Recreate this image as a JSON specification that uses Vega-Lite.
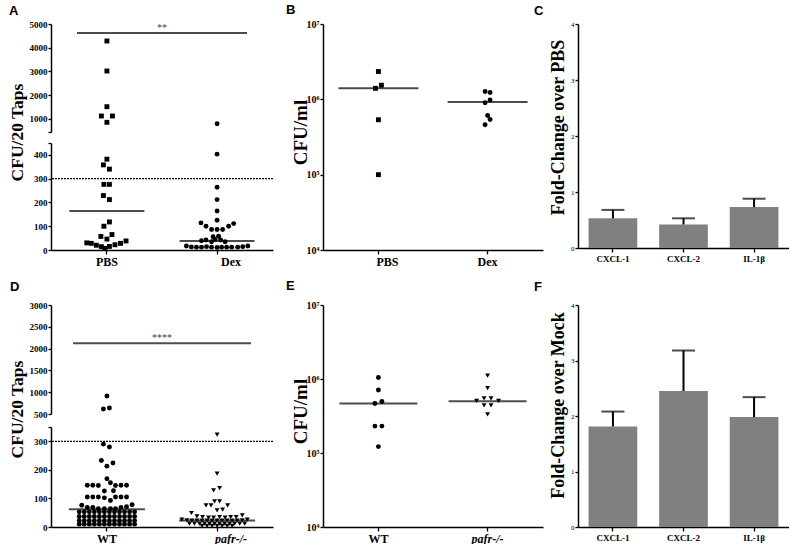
{
  "$schema": "https://vega.github.io/schema/vega-lite/v6.json",
  "padding": {"left": 8, "top": 4, "right": 0, "bottom": 0},
  "config": {
    "view": {"stroke": null},
    "font": "Liberation Serif",
    "axis": {"domainColor": "black", "domainWidth": 1.5, "tickColor": "black", "tickWidth": 1.3, "tickSize": 4, "labelColor": "black", "labelFont": "Liberation Serif", "labelFontWeight": "bold", "titleFont": "Liberation Serif", "titleFontWeight": "bold", "titleColor": "black", "grid": false},
    "title": {"font": "Liberation Sans", "fontSize": 13, "fontWeight": "bold", "anchor": "start", "frame": "group", "color": "black", "baseline": "alphabetic", "offset": 2}
  },
  "datasets": {
    "A": [
      {"grp":"PBS","cfu":4284,"slot":0},{"grp":"PBS","cfu":3020,"slot":0},{"grp":"PBS","cfu":1516,"slot":0},{"grp":"PBS","cfu":1124,"slot":-1.1},{"grp":"PBS","cfu":1124,"slot":1.1},{"grp":"PBS","cfu":858,"slot":0},
      {"grp":"PBS","cfu":382,"slot":0},{"grp":"PBS","cfu":358,"slot":-0.7},{"grp":"PBS","cfu":340,"slot":0.5},{"grp":"PBS","cfu":276,"slot":-0.6},{"grp":"PBS","cfu":276,"slot":0.5},{"grp":"PBS","cfu":229,"slot":-0.7},{"grp":"PBS","cfu":212,"slot":0.5},{"grp":"PBS","cfu":118,"slot":0.5},{"grp":"PBS","cfu":100,"slot":-0.6},{"grp":"PBS","cfu":65,"slot":1},{"grp":"PBS","cfu":57,"slot":-1.2},{"grp":"PBS","cfu":46,"slot":0},
      {"grp":"PBS","cfu":30,"slot":-4},{"grp":"PBS","cfu":28,"slot":-3.1},{"grp":"PBS","cfu":20,"slot":-2.1},{"grp":"PBS","cfu":14,"slot":-1.1},{"grp":"PBS","cfu":7,"slot":-0.4},{"grp":"PBS","cfu":15,"slot":0.5},{"grp":"PBS","cfu":22,"slot":1.6},{"grp":"PBS","cfu":28,"slot":2.7},{"grp":"PBS","cfu":38,"slot":3.8},
      {"grp":"Dex","cfu":800,"slot":0},{"grp":"Dex","cfu":403,"slot":0},{"grp":"Dex","cfu":264,"slot":0},{"grp":"Dex","cfu":212,"slot":0},{"grp":"Dex","cfu":164,"slot":0},{"grp":"Dex","cfu":125,"slot":0},{"grp":"Dex","cfu":114,"slot":-3.2},{"grp":"Dex","cfu":100,"slot":-2.2},{"grp":"Dex","cfu":86,"slot":-1.1},{"grp":"Dex","cfu":86,"slot":0},{"grp":"Dex","cfu":86,"slot":1.1},{"grp":"Dex","cfu":100,"slot":2.3},{"grp":"Dex","cfu":111,"slot":3.3},{"grp":"Dex","cfu":56,"slot":-0.8},{"grp":"Dex","cfu":58,"slot":0.3},
      {"grp":"Dex","cfu":39,"slot":-3.1},{"grp":"Dex","cfu":42,"slot":-2.2},{"grp":"Dex","cfu":35,"slot":-1.1},{"grp":"Dex","cfu":44,"slot":-0.4},{"grp":"Dex","cfu":42,"slot":0.7},{"grp":"Dex","cfu":35,"slot":1.6},
      {"grp":"Dex","cfu":17,"slot":-6.1},{"grp":"Dex","cfu":13,"slot":-5.1},{"grp":"Dex","cfu":12,"slot":-4.1},{"grp":"Dex","cfu":12,"slot":-3.1},{"grp":"Dex","cfu":14,"slot":-2.1},{"grp":"Dex","cfu":12,"slot":-1.1},{"grp":"Dex","cfu":11,"slot":0},{"grp":"Dex","cfu":12,"slot":0.9},{"grp":"Dex","cfu":12,"slot":1.9},{"grp":"Dex","cfu":12,"slot":2.9},{"grp":"Dex","cfu":12,"slot":4.1},{"grp":"Dex","cfu":14,"slot":5.1},{"grp":"Dex","cfu":17,"slot":6.1}
    ],
    "Amed": [{"grp":"PBS","median":164},{"grp":"Dex","median":38}],
    "B": [
      {"grp":"PBS","cfu":2340000,"slot":0},{"grp":"PBS","cfu":1400000,"slot":-0.6},{"grp":"PBS","cfu":1540000,"slot":0.6},{"grp":"PBS","cfu":536000,"slot":0},{"grp":"PBS","cfu":100000,"slot":0},
      {"grp":"Dex","cfu":1270000,"slot":-0.5},{"grp":"Dex","cfu":1230000,"slot":0.5},{"grp":"Dex","cfu":900000,"slot":-0.5},{"grp":"Dex","cfu":980000,"slot":0.5},{"grp":"Dex","cfu":610000,"slot":0},{"grp":"Dex","cfu":540000,"slot":0.5},{"grp":"Dex","cfu":460000,"slot":-0.5}
    ],
    "Bmed": [{"grp":"PBS","median":1400000},{"grp":"Dex","median":920000}],
    "C": [{"gene":"CXCL-1","fc":0.53,"upper":0.68},{"gene":"CXCL-2","fc":0.42,"upper":0.53},{"gene":"IL-1β","fc":0.73,"upper":0.88}],
    "D": [
      {"grp":"WT","cfu":912,"slot":0},{"grp":"WT","cfu":614,"slot":-0.7},{"grp":"WT","cfu":636,"slot":0.5},
      {"grp":"WT","cfu":290,"slot":-0.7},{"grp":"WT","cfu":280,"slot":0.5},{"grp":"WT","cfu":233,"slot":-1.1},{"grp":"WT","cfu":224,"slot":1.2},{"grp":"WT","cfu":213,"slot":0},{"grp":"WT","cfu":169,"slot":0},{"grp":"WT","cfu":155,"slot":0.7},
      {"grp":"WT","cfu":146,"slot":-3.9},{"grp":"WT","cfu":146,"slot":-2.8},{"grp":"WT","cfu":145,"slot":-1.7},{"grp":"WT","cfu":145,"slot":1.7},{"grp":"WT","cfu":146,"slot":2.8},{"grp":"WT","cfu":146,"slot":3.9},
      {"grp":"WT","cfu":126,"slot":-0.5},{"grp":"WT","cfu":127,"slot":1.3},
      {"grp":"WT","cfu":105,"slot":-3.9},{"grp":"WT","cfu":105,"slot":-2.8},{"grp":"WT","cfu":105,"slot":-1.7},{"grp":"WT","cfu":102,"slot":-0.5},{"grp":"WT","cfu":105,"slot":1.7},{"grp":"WT","cfu":105,"slot":2.8},{"grp":"WT","cfu":105,"slot":3.9},
      {"grp":"WT","cfu":93,"slot":0.7},
      {"grp":"WT","cfu":76,"slot":-5},{"grp":"WT","cfu":68,"slot":-3.9},{"grp":"WT","cfu":68,"slot":-2.8},{"grp":"WT","cfu":64,"slot":-1.7},{"grp":"WT","cfu":64,"slot":-0.5},{"grp":"WT","cfu":64,"slot":0.7},{"grp":"WT","cfu":64,"slot":1.7},{"grp":"WT","cfu":68,"slot":2.8},{"grp":"WT","cfu":71,"slot":3.9},{"grp":"WT","cfu":78,"slot":5},
      {"grp":"WT","cfu":53,"slot":-5.5},{"grp":"WT","cfu":53,"slot":-4.5},{"grp":"WT","cfu":53,"slot":-3.5},{"grp":"WT","cfu":53,"slot":-2.5},{"grp":"WT","cfu":53,"slot":-1.5},{"grp":"WT","cfu":53,"slot":-0.5},{"grp":"WT","cfu":53,"slot":0.5},{"grp":"WT","cfu":53,"slot":1.5},{"grp":"WT","cfu":53,"slot":2.5},{"grp":"WT","cfu":53,"slot":3.5},{"grp":"WT","cfu":53,"slot":4.5},{"grp":"WT","cfu":53,"slot":5.5},
      {"grp":"WT","cfu":37,"slot":-5.5},{"grp":"WT","cfu":37,"slot":-4.5},{"grp":"WT","cfu":37,"slot":-3.5},{"grp":"WT","cfu":37,"slot":-2.5},{"grp":"WT","cfu":37,"slot":-1.5},{"grp":"WT","cfu":37,"slot":-0.5},{"grp":"WT","cfu":37,"slot":0.5},{"grp":"WT","cfu":37,"slot":1.5},{"grp":"WT","cfu":37,"slot":2.5},{"grp":"WT","cfu":37,"slot":3.5},{"grp":"WT","cfu":37,"slot":4.5},{"grp":"WT","cfu":37,"slot":5.5},
      {"grp":"WT","cfu":22,"slot":-5.5},{"grp":"WT","cfu":22,"slot":-4.5},{"grp":"WT","cfu":22,"slot":-3.5},{"grp":"WT","cfu":22,"slot":-2.5},{"grp":"WT","cfu":22,"slot":-1.5},{"grp":"WT","cfu":22,"slot":-0.5},{"grp":"WT","cfu":22,"slot":0.5},{"grp":"WT","cfu":22,"slot":1.5},{"grp":"WT","cfu":22,"slot":2.5},{"grp":"WT","cfu":22,"slot":3.5},{"grp":"WT","cfu":22,"slot":4.5},{"grp":"WT","cfu":22,"slot":5.5},
      {"grp":"WT","cfu":10,"slot":-5.5},{"grp":"WT","cfu":10,"slot":-4.5},{"grp":"WT","cfu":10,"slot":-3.5},{"grp":"WT","cfu":10,"slot":-2.5},{"grp":"WT","cfu":10,"slot":-1.5},{"grp":"WT","cfu":10,"slot":-0.5},{"grp":"WT","cfu":10,"slot":0.5},{"grp":"WT","cfu":10,"slot":1.5},{"grp":"WT","cfu":10,"slot":2.5},{"grp":"WT","cfu":10,"slot":3.5},{"grp":"WT","cfu":10,"slot":4.5},{"grp":"WT","cfu":10,"slot":5.5},
      {"grp":"pafr-/-","cfu":323,"slot":0},{"grp":"pafr-/-","cfu":187,"slot":0},{"grp":"pafr-/-","cfu":128,"slot":-0.7},{"grp":"pafr-/-","cfu":136,"slot":0.5},
      {"grp":"pafr-/-","cfu":76,"slot":-2.2},{"grp":"pafr-/-","cfu":76,"slot":-1.2},{"grp":"pafr-/-","cfu":90,"slot":-0.5},{"grp":"pafr-/-","cfu":90,"slot":0.5},{"grp":"pafr-/-","cfu":76,"slot":2.1},
      {"grp":"pafr-/-","cfu":58,"slot":0},{"grp":"pafr-/-","cfu":61,"slot":1.1},
      {"grp":"pafr-/-","cfu":49,"slot":-5.1},{"grp":"pafr-/-","cfu":37,"slot":-4},{"grp":"pafr-/-","cfu":35,"slot":-2.9},{"grp":"pafr-/-","cfu":33,"slot":-1.7},{"grp":"pafr-/-","cfu":33,"slot":-0.7},{"grp":"pafr-/-","cfu":35,"slot":0.5},{"grp":"pafr-/-","cfu":33,"slot":1.6},{"grp":"pafr-/-","cfu":35,"slot":2.7},{"grp":"pafr-/-","cfu":35,"slot":3.8},{"grp":"pafr-/-","cfu":41,"slot":5},
      {"grp":"pafr-/-","cfu":26,"slot":-7},{"grp":"pafr-/-","cfu":23,"slot":-6},{"grp":"pafr-/-","cfu":22,"slot":-5},{"grp":"pafr-/-","cfu":22,"slot":-4},{"grp":"pafr-/-","cfu":22,"slot":-3},{"grp":"pafr-/-","cfu":22,"slot":-2},{"grp":"pafr-/-","cfu":22,"slot":-1},{"grp":"pafr-/-","cfu":22,"slot":0},{"grp":"pafr-/-","cfu":22,"slot":1},{"grp":"pafr-/-","cfu":22,"slot":2},{"grp":"pafr-/-","cfu":22,"slot":3},{"grp":"pafr-/-","cfu":22,"slot":4},{"grp":"pafr-/-","cfu":23,"slot":5},{"grp":"pafr-/-","cfu":26,"slot":6},
      {"grp":"pafr-/-","cfu":12,"slot":-5.5},{"grp":"pafr-/-","cfu":12,"slot":-4.5},{"grp":"pafr-/-","cfu":12,"slot":-3.5},{"grp":"pafr-/-","cfu":12,"slot":-2.5},{"grp":"pafr-/-","cfu":12,"slot":-1.5},{"grp":"pafr-/-","cfu":12,"slot":-0.5},{"grp":"pafr-/-","cfu":12,"slot":0.5},{"grp":"pafr-/-","cfu":12,"slot":1.5},{"grp":"pafr-/-","cfu":12,"slot":2.5},{"grp":"pafr-/-","cfu":12,"slot":3.5},{"grp":"pafr-/-","cfu":12,"slot":4.5},{"grp":"pafr-/-","cfu":12,"slot":5.5},
      {"grp":"pafr-/-","cfu":4,"slot":-3},{"grp":"pafr-/-","cfu":4,"slot":-2},{"grp":"pafr-/-","cfu":4,"slot":-1},{"grp":"pafr-/-","cfu":4,"slot":0},{"grp":"pafr-/-","cfu":4,"slot":1},{"grp":"pafr-/-","cfu":4,"slot":2},{"grp":"pafr-/-","cfu":4,"slot":3}
    ],
    "Dmed": [{"grp":"WT","median":62},{"grp":"pafr-/-","median":23}],
    "E": [
      {"grp":"WT","cfu":1050000,"slot":0},{"grp":"WT","cfu":710000,"slot":0},{"grp":"WT","cfu":466000,"slot":-0.7},{"grp":"WT","cfu":497000,"slot":0.7},{"grp":"WT","cfu":231000,"slot":-0.7},{"grp":"WT","cfu":231000,"slot":0.7},{"grp":"WT","cfu":122000,"slot":0},
      {"grp":"pafr-/-","cfu":1110000,"slot":0},{"grp":"pafr-/-","cfu":750000,"slot":0},{"grp":"pafr-/-","cfu":506000,"slot":-2.2},{"grp":"pafr-/-","cfu":546000,"slot":-0.7},{"grp":"pafr-/-","cfu":546000,"slot":0.7},{"grp":"pafr-/-","cfu":506000,"slot":2.2},{"grp":"pafr-/-","cfu":440000,"slot":-0.7},{"grp":"pafr-/-","cfu":440000,"slot":0.7},{"grp":"pafr-/-","cfu":333000,"slot":0}
    ],
    "Emed": [{"grp":"WT","median":466000},{"grp":"pafr-/-","median":500000}],
    "F": [{"gene":"CXCL-1","fc":1.81,"upper":2.08},{"gene":"CXCL-2","fc":2.45,"upper":3.18},{"gene":"IL-1β","fc":1.98,"upper":2.34}]
  },
  "columns": 5,
  "spacing": {"row": 55, "column": 0},
  "bounds": "flush",
  "resolve": {"scale": {"shape": "independent", "xOffset": "independent"}},
  "concat": [
    {
      "width": 222, "height": 226,
      "title": {"text": "A", "dx": -42},
      "layer": [
        {"layer": [
          {"data": {"name": "A"}, "transform": [{"filter": "datum.cfu <= 450"}],
           "mark": {"type": "point", "filled": true, "color": "black", "opacity": 1, "size": 24},
           "encoding": {
             "x": {"field": "grp", "type": "nominal", "sort": ["PBS", "Dex"], "title": null, "scale": {"type": "band", "paddingInner": 0.315, "paddingOuter": 0.165},
                   "axis": {"labelAngle": 0, "labelFontSize": 12, "labelPadding": 2, "labelOffset": {"condition": {"test": "datum.value === 'Dex'", "value": 14}, "value": 0}}},
             "xOffset": {"field": "slot", "type": "quantitative", "scale": {"domain": [-7.5, 7.5]}},
             "y": {"field": "cfu", "type": "quantitative", "title": "CFU/20 Taps", "scale": {"domain": [0, 450], "range": [226, 119], "nice": false, "zero": false},
                   "axis": {"orient": "left", "values": [0, 100, 200, 300, 400, 450], "format": "d", "labelExpr": "datum.value == 450 ? '' : datum.label", "labelFontSize": 9, "labelPadding": 1, "tickSize": 3, "titleFontSize": 17.5, "titleX": -25, "titleY": 108}},
             "shape": {"field": "grp", "type": "nominal", "scale": {"domain": ["PBS", "Dex"], "range": ["square", "circle"]}, "legend": null}
           }},
          {"data": {"name": "Amed"}, "mark": {"type": "tick", "color": "black", "size": 75, "thickness": 2},
           "encoding": {"x": {"field": "grp", "type": "nominal", "sort": ["PBS", "Dex"], "title": null}, "y": {"field": "median", "type": "quantitative", "title": "CFU/20 Taps"}}},
          {"data": {"values": [{}]}, "mark": {"type": "rule", "color": "black", "strokeDash": [2, 1], "strokeWidth": 1.2},
           "encoding": {"y": {"datum": 300, "type": "quantitative"}}}
        ]},
        {"layer": [
          {"data": {"name": "A"}, "transform": [{"filter": "datum.cfu > 450"}],
           "mark": {"type": "point", "filled": true, "color": "black", "opacity": 1, "size": 24},
           "encoding": {
             "x": {"field": "grp", "type": "nominal", "sort": ["PBS", "Dex"], "title": null},
             "xOffset": {"field": "slot", "type": "quantitative"},
             "y": {"field": "cfu", "type": "quantitative", "title": null, "scale": {"domain": [450, 5000], "range": [108, 0], "nice": false, "zero": false},
                   "axis": {"orient": "left", "values": [450, 1000, 2000, 3000, 4000, 5000], "format": "d", "labelExpr": "datum.value == 450 ? '' : datum.label", "labelFontSize": 9, "labelPadding": 1, "tickSize": 3}},
             "shape": {"field": "grp", "type": "nominal", "legend": null}
           }},
          {"data": {"values": [{}]}, "mark": {"type": "tick", "color": "black", "size": 170, "thickness": 2},
           "encoding": {"y": {"datum": 4620, "type": "quantitative"}}},
          {"data": {"values": [{}]}, "mark": {"type": "text", "text": "**", "font": "Liberation Serif", "fontSize": 10, "baseline": "alphabetic", "dy": -2, "color": "#444444"},
           "encoding": {"y": {"datum": 4620, "type": "quantitative"}}}
        ]}
      ],
      "resolve": {"scale": {"y": "independent"}, "axis": {"y": "independent"}}
    },
    {"width": 50, "height": 10, "data": {"values": []}, "mark": "point"},
    {
      "width": 220, "height": 226,
      "title": {"text": "B", "dx": -37},
      "layer": [
        {"data": {"name": "B"},
         "mark": {"type": "point", "filled": true, "color": "black", "opacity": 1, "size": 24},
         "encoding": {
           "x": {"field": "grp", "type": "nominal", "sort": ["PBS", "Dex"], "title": null, "scale": {"type": "band", "paddingInner": 0.315, "paddingOuter": 0.165},
                 "axis": {"labelAngle": 0, "labelFontSize": 12, "labelPadding": 2, "labelOffset": {"condition": {"test": "datum.value === 'PBS'", "value": 9}, "value": 0}}},
           "xOffset": {"field": "slot", "type": "quantitative", "scale": {"domain": [-7.5, 7.5]}},
           "y": {"field": "cfu", "type": "quantitative", "title": "CFU/ml", "scale": {"type": "log", "domain": [10000, 10000000], "nice": false},
                 "axis": {"values": [10000, 100000, 1000000, 10000000], "labelExpr": "'10' + ['⁰','¹','²','³','⁴','⁵','⁶','⁷'][round(log(datum.value)/LN10)]", "labelFontSize": 10, "labelPadding": 1, "tickSize": 3, "titleFontSize": 19, "titleX": -13, "titleY": 108}},
           "shape": {"field": "grp", "type": "nominal", "scale": {"domain": ["PBS", "Dex"], "range": ["square", "circle"]}, "legend": null}
         }},
        {"data": {"name": "Bmed"}, "mark": {"type": "tick", "color": "black", "size": 80, "thickness": 2},
         "encoding": {"x": {"field": "grp", "type": "nominal", "sort": ["PBS", "Dex"], "title": null}, "y": {"field": "median", "type": "quantitative", "title": "CFU/ml"}}}
      ]
    },
    {"width": 35, "height": 10, "data": {"values": []}, "mark": "point"},
    {
      "width": 211, "height": 224,
      "title": {"text": "C", "dx": -44},
      "data": {"name": "C"},
      "encoding": {"x": {"field": "gene", "type": "nominal", "sort": ["CXCL-1", "CXCL-2", "IL-1β"], "title": null, "scale": {"type": "band", "paddingInner": 0.31, "paddingOuter": 0.15}, "axis": {"labelAngle": 0, "labelFontSize": 9, "labelPadding": 2}}},
      "layer": [
        {"mark": {"type": "bar", "color": "#808080"},
         "encoding": {"y": {"field": "fc", "type": "quantitative", "title": "Fold-Change over PBS", "scale": {"domain": [0, 4], "nice": false},
           "axis": {"values": [0, 1, 2, 3, 4], "format": "d", "labelFontSize": 7, "labelFontWeight": "normal", "tickSize": 3, "labelPadding": 1, "titleFontSize": 18, "titleX": -11, "titleY": 103}}}},
        {"mark": {"type": "rule", "color": "black", "strokeWidth": 2},
         "encoding": {"y": {"field": "fc", "type": "quantitative", "title": "Fold-Change over PBS"}, "y2": {"field": "upper"}}},
        {"mark": {"type": "tick", "color": "black", "size": 23, "thickness": 2},
         "encoding": {"y": {"field": "upper", "type": "quantitative", "title": "Fold-Change over PBS"}}}
      ]
    },
    {
      "width": 222, "height": 222,
      "title": {"text": "D", "dx": -41, "dy": -5},
      "layer": [
        {"layer": [
          {"data": {"name": "D"}, "transform": [{"filter": "datum.cfu <= 350"}],
           "mark": {"type": "point", "filled": true, "color": "black", "opacity": 1, "size": 24},
           "encoding": {
             "x": {"field": "grp", "type": "nominal", "sort": ["WT", "pafr-/-"], "title": null, "scale": {"type": "band", "paddingInner": 0.315, "paddingOuter": 0.165},
                   "axis": {"labelAngle": 0, "labelFontSize": 12, "labelPadding": 2, "labelOffset": {"condition": {"test": "datum.value === 'pafr-/-'", "value": 14}, "value": 0}, "labelFontStyle": {"condition": {"test": "datum.value === 'pafr-/-'", "value": "italic"}, "value": "normal"}}},
             "xOffset": {"field": "slot", "type": "quantitative", "scale": {"domain": [-7.5, 7.5]}},
             "y": {"field": "cfu", "type": "quantitative", "title": "CFU/20 Taps", "scale": {"domain": [0, 350], "range": [222, 122], "nice": false, "zero": false},
                   "axis": {"orient": "left", "values": [0, 100, 200, 300, 350], "format": "d", "labelExpr": "datum.value == 350 ? '' : datum.label", "labelFontSize": 9, "labelPadding": 1, "tickSize": 3, "titleFontSize": 17.5, "titleX": -25, "titleY": 104}},
             "shape": {"field": "grp", "type": "nominal", "scale": {"domain": ["WT", "pafr-/-"], "range": ["circle", "triangle-down"]}, "legend": null}
           }},
          {"data": {"name": "Dmed"}, "mark": {"type": "tick", "color": "black", "size": 76, "thickness": 2},
           "encoding": {"x": {"field": "grp", "type": "nominal", "sort": ["WT", "pafr-/-"], "title": null}, "y": {"field": "median", "type": "quantitative", "title": "CFU/20 Taps"}}},
          {"data": {"values": [{}]}, "mark": {"type": "rule", "color": "black", "strokeDash": [2, 1], "strokeWidth": 1.2},
           "encoding": {"y": {"datum": 300, "type": "quantitative"}}}
        ]},
        {"layer": [
          {"data": {"name": "D"}, "transform": [{"filter": "datum.cfu > 350"}],
           "mark": {"type": "point", "filled": true, "color": "black", "opacity": 1, "size": 24},
           "encoding": {
             "x": {"field": "grp", "type": "nominal", "sort": ["WT", "pafr-/-"], "title": null},
             "xOffset": {"field": "slot", "type": "quantitative"},
             "y": {"field": "cfu", "type": "quantitative", "title": null, "scale": {"domain": [500, 3000], "range": [109, 0], "nice": false, "zero": false},
                   "axis": {"orient": "left", "values": [500, 1000, 1500, 2000, 2500, 3000], "format": "d", "labelFontSize": 9, "labelPadding": 1, "tickSize": 3}},
             "shape": {"field": "grp", "type": "nominal", "legend": null}
           }},
          {"data": {"values": [{}]}, "mark": {"type": "tick", "color": "black", "size": 178, "thickness": 2},
           "encoding": {"y": {"datum": 2122, "type": "quantitative"}}},
          {"data": {"values": [{}]}, "mark": {"type": "text", "text": "****", "font": "Liberation Serif", "fontSize": 10, "baseline": "alphabetic", "dy": -2, "color": "#444444"},
           "encoding": {"y": {"datum": 2122, "type": "quantitative"}}}
        ]}
      ],
      "resolve": {"scale": {"y": "independent"}, "axis": {"y": "independent"}}
    },
    {"width": 50, "height": 10, "data": {"values": []}, "mark": "point"},
    {
      "width": 220, "height": 222,
      "title": {"text": "E", "dx": -37, "dy": -5},
      "layer": [
        {"data": {"name": "E"},
         "mark": {"type": "point", "filled": true, "color": "black", "opacity": 1, "size": 24},
         "encoding": {
           "x": {"field": "grp", "type": "nominal", "sort": ["WT", "pafr-/-"], "title": null, "scale": {"type": "band", "paddingInner": 0.315, "paddingOuter": 0.165},
                 "axis": {"labelAngle": 0, "labelFontSize": 12, "labelPadding": 2, "labelFontStyle": {"condition": {"test": "datum.value === 'pafr-/-'", "value": "italic"}, "value": "normal"}}},
           "xOffset": {"field": "slot", "type": "quantitative", "scale": {"domain": [-7.5, 7.5]}},
           "y": {"field": "cfu", "type": "quantitative", "title": "CFU/ml", "scale": {"type": "log", "domain": [10000, 10000000], "nice": false},
                 "axis": {"values": [10000, 100000, 1000000, 10000000], "labelExpr": "'10' + ['⁰','¹','²','³','⁴','⁵','⁶','⁷'][round(log(datum.value)/LN10)]", "labelFontSize": 10, "labelPadding": 1, "tickSize": 3, "titleFontSize": 19, "titleX": -13, "titleY": 106}},
           "shape": {"field": "grp", "type": "nominal", "scale": {"domain": ["WT", "pafr-/-"], "range": ["circle", "triangle-down"]}, "legend": null}
         }},
        {"data": {"name": "Emed"}, "mark": {"type": "tick", "color": "black", "size": 78, "thickness": 2},
         "encoding": {"x": {"field": "grp", "type": "nominal", "sort": ["WT", "pafr-/-"], "title": null}, "y": {"field": "median", "type": "quantitative", "title": "CFU/ml"}}}
      ]
    },
    {"width": 35, "height": 10, "data": {"values": []}, "mark": "point"},
    {
      "width": 211, "height": 222,
      "title": {"text": "F", "dx": -44, "dy": -5},
      "data": {"name": "F"},
      "encoding": {"x": {"field": "gene", "type": "nominal", "sort": ["CXCL-1", "CXCL-2", "IL-1β"], "title": null, "scale": {"type": "band", "paddingInner": 0.31, "paddingOuter": 0.15}, "axis": {"labelAngle": 0, "labelFontSize": 9, "labelPadding": 2}}},
      "layer": [
        {"mark": {"type": "bar", "color": "#808080"},
         "encoding": {"y": {"field": "fc", "type": "quantitative", "title": "Fold-Change over Mock", "scale": {"domain": [0, 4], "nice": false},
           "axis": {"values": [0, 1, 2, 3, 4], "format": "d", "labelFontSize": 7, "labelFontWeight": "normal", "tickSize": 3, "labelPadding": 1, "titleFontSize": 18, "titleX": -11, "titleY": 100}}}},
        {"mark": {"type": "rule", "color": "black", "strokeWidth": 2},
         "encoding": {"y": {"field": "fc", "type": "quantitative", "title": "Fold-Change over Mock"}, "y2": {"field": "upper"}}},
        {"mark": {"type": "tick", "color": "black", "size": 23, "thickness": 2},
         "encoding": {"y": {"field": "upper", "type": "quantitative", "title": "Fold-Change over Mock"}}}
      ]
    }
  ]
}
